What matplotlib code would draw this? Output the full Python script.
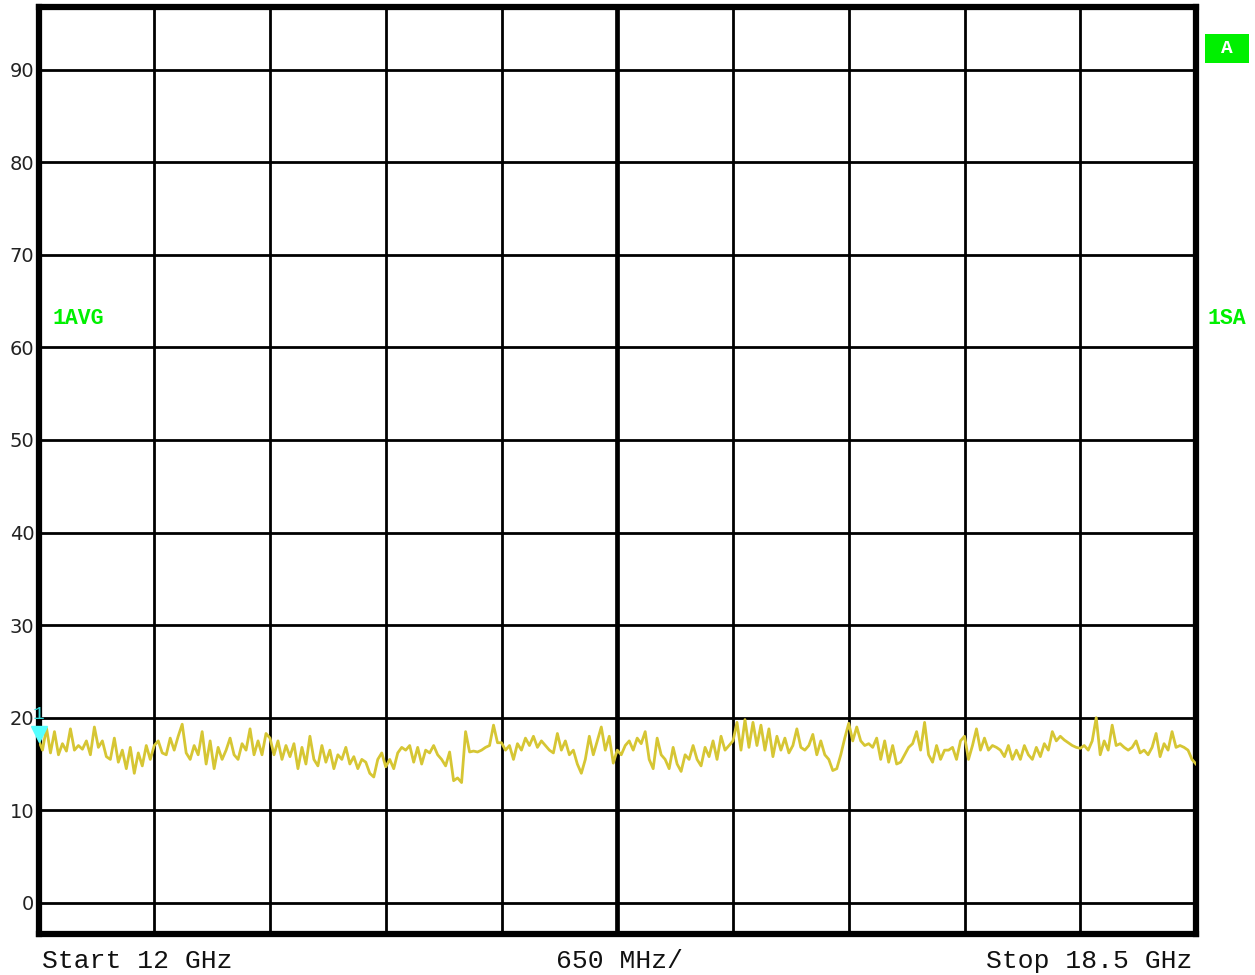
import numpy as np
import matplotlib
matplotlib.use('Agg')
import matplotlib.pyplot as plt
from matplotlib.patches import Rectangle

# sweep settings
f_start, f_stop = 12.0, 18.5
level_ticks = [0, 10, 20, 30, 40, 50, 60, 70, 80, 90]

# trace level (dB), one list per horizontal division
div1 = [17.6, 16.5, 18.9, 16.2, 18.5, 16.0, 17.2, 16.4, 18.8, 16.5, 17.0, 16.6, 17.5, 16.0,
        19.0, 16.8, 17.5, 15.8, 15.5, 17.8, 15.2, 16.5, 14.5, 16.8, 14.0, 16.2, 14.8, 17.0, 15.5]
div2 = [17.0, 17.5, 16.2, 16.0, 17.8, 16.5, 18.0, 19.3, 16.2, 15.5, 17.0, 16.0, 18.5, 15.0,
        17.5, 14.5, 16.8, 15.5, 16.5, 17.8, 16.0, 15.5, 17.2, 16.5, 18.8, 16.0, 17.5, 16.0, 18.3]
div3 = [17.8, 16.0, 17.5, 15.5, 17.0, 15.8, 17.2, 14.5, 16.8, 15.0, 18.0, 15.5, 14.8, 17.0,
        15.2, 16.5, 14.5, 16.0, 15.5, 16.8, 15.0, 15.8, 14.5, 15.5, 15.2, 14.0, 13.6, 15.5, 16.2]
div4 = [14.7, 15.5, 14.5, 16.2, 16.8, 16.5, 17.0, 15.2, 16.8, 15.0, 16.5, 16.2, 17.0, 16.0,
        15.5, 14.8, 16.3, 13.2, 13.5, 13.0, 18.5, 16.3, 16.4, 16.3, 16.5, 16.8, 17.0, 19.2, 17.3]
div5 = [17.3, 16.5, 17.0, 15.5, 17.2, 16.5, 17.8, 17.0, 18.0, 16.8, 17.5, 17.0, 16.5, 16.2,
        18.3, 16.5, 17.5, 16.0, 16.5, 15.0, 14.0, 15.5, 18.0, 16.0, 17.5, 19.0, 16.5, 18.0, 15.1]
div6 = [16.5, 16.0, 17.0, 17.5, 16.5, 17.8, 17.2, 18.5, 15.5, 14.5, 17.8, 16.0, 15.5, 14.5,
        16.8, 15.0, 14.2, 16.0, 15.5, 17.0, 15.5, 14.8, 16.8, 15.8, 17.5, 15.5, 18.0, 16.5, 17.0]
div7 = [17.5, 19.5, 16.5, 19.8, 16.8, 19.5, 17.0, 19.2, 16.5, 18.8, 15.8, 18.0, 16.5, 17.8,
        16.2, 17.0, 18.8, 16.8, 16.5, 17.0, 18.2, 16.0, 17.5, 16.0, 15.5, 14.3, 14.5, 16.0, 17.8]
div8 = [19.4, 17.5, 19.0, 17.5, 17.0, 17.2, 16.8, 17.8, 15.5, 17.5, 15.2, 17.0, 15.0, 15.2,
        16.0, 16.8, 17.2, 18.5, 16.5, 19.5, 16.0, 15.2, 17.0, 15.5, 16.5, 16.5, 16.8, 15.5, 17.5]
div9 = [18.0, 15.5, 17.0, 18.8, 16.5, 17.8, 16.5, 17.0, 16.8, 16.5, 15.8, 17.0, 15.5, 16.5,
        15.5, 17.0, 16.0, 15.5, 16.8, 15.8, 17.2, 16.5, 18.5, 17.5, 18.0, 17.6, 17.3, 17.0, 16.8]
div10 = [16.7, 17.0, 16.5, 17.5, 20.0, 16.0, 17.5, 16.5, 19.2, 17.0, 17.2, 16.8, 16.5, 16.8,
         17.5, 16.2, 16.5, 16.0, 16.8, 18.3, 15.8, 17.2, 16.5, 18.5, 16.8, 17.0, 16.8, 16.5, 15.5, 15.0]

level = np.array(div1 + div2 + div3 + div4 + div5 + div6 + div7 + div8 + div9 + div10)
freq = np.linspace(f_start, f_stop, len(level))

mono = 'Liberation Mono'
green = '#00f000'

fig = plt.figure(figsize=(12.55, 9.75), dpi=100)
ax = fig.add_axes([0.03068, 0.04256, 0.92231, 0.95026])
ax.set_xlim(f_start, f_stop)
ax.set_ylim(-3.3, 96.75)

# grid: 10 x divisions, 10 dB y divisions
xgrid = np.linspace(f_start, f_stop, 11)
for i, xv in enumerate(xgrid[1:-1]):
    ax.axvline(xv, color='black', lw=3.4 if i == 4 else 2.0, zorder=1)
for yv in level_ticks:
    ax.axhline(yv, color='black', lw=2.0, zorder=1)

ax.plot(freq, level, color='#d6c634', lw=2.0, zorder=3)

for s in ax.spines.values():
    s.set_linewidth(4.5)
    s.set_color('black')
ax.set_xticks([])
ax.set_yticks(level_ticks)
ax.tick_params(axis='y', length=0, pad=3, labelsize=14, labelcolor='#222222')

# reference marker on left edge
ax.plot([f_start], [18.2], marker='v', color='#55ffff', markersize=11, clip_on=False, zorder=5)
ax.text(f_start, 20.4, '1', color='#33dddd', fontsize=14, family=mono, ha='center', va='center',
        clip_on=False, zorder=5)

# screen annotations
fig.text(52 / 1255, 1 - 319 / 975, '1AVG', color=green, fontsize=15.5,
         family=mono, fontweight='bold', va='center', ha='left')
fig.text(1227 / 1255, 1 - 319 / 975, '1SA', color=green, fontsize=15.5, family=mono,
         fontweight='bold', va='center', ha='center')
fig.patches.append(Rectangle((1205 / 1255, 1 - 63 / 975), 44 / 1255, 29 / 975,
                             transform=fig.transFigure, fc=green, ec='none'))
fig.text(1227 / 1255, 1 - 48.5 / 975, 'A', color='white', fontsize=14, family=mono,
         fontweight='bold', va='center', ha='center')

ytxt = 1 - 961 / 975
fig.text(42 / 1255, ytxt, 'Start 12 GHz', family=mono, fontsize=19, color='#111111',
         ha='left', va='center')
fig.text(619.5 / 1255, ytxt, '650 MHz/', family=mono, fontsize=19, color='#111111',
         ha='center', va='center')
fig.text(1192 / 1255, ytxt, 'Stop 18.5 GHz', family=mono, fontsize=19, color='#111111',
         ha='right', va='center')

fig.savefig('out.png', dpi=100, facecolor='white')
